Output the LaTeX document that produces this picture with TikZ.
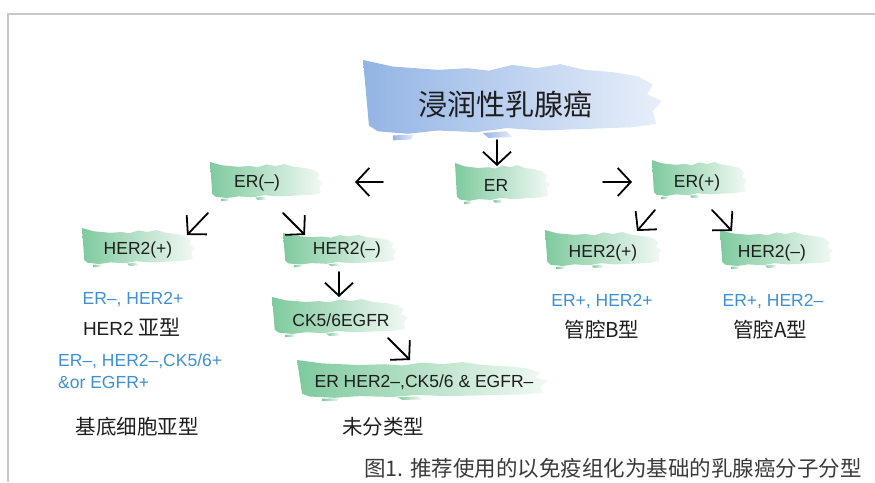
\documentclass[tikz,border=0pt]{standalone}
\usepackage{fontspec}
\setmainfont{Liberation Sans}
\newfontfamily\cjk{Noto Sans CJK SC}
\usetikzlibrary{arrows.meta}
\definecolor{bluetxt}{HTML}{3D8FD6}
\definecolor{gL}{HTML}{7FCA9E}
\definecolor{gR}{HTML}{F2F9F4}
\definecolor{bL}{HTML}{92B4E4}
\definecolor{bR}{HTML}{E8EFFA}
\definecolor{framegray}{HTML}{C9C9C9}
\definecolor{txtdark}{HTML}{1E1E1E}
\definecolor{captgray}{HTML}{3A3A3A}
\newcommand\brushbg[6]{%
  \begin{scope}[shift={(#1,#2)},xscale={#3-#1},yscale={#4-#2}]
    \shade[left color=#5,right color=#6]
      (0,0) -- (0.1,0.08) -- (0.25,0.12) -- (0.35,0.1) -- (0.42,0.13) -- (0.5,0.06)
      -- (0.58,0.1) -- (0.66,0.05) -- (0.74,0.12) -- (0.84,0.15) -- (0.92,0.2)
      -- (0.97,0.3) -- (0.95,0.42) -- (1,0.5) -- (0.97,0.62) -- (0.98,0.78)
      -- (0.9,0.82) -- (0.75,0.84) -- (0.6,0.86) -- (0.48,0.83) -- (0.38,0.88)
      -- (0.25,0.86) -- (0.15,0.9) -- (0.05,0.87) -- (0.02,0.8) -- (0.01,0.4) -- cycle;
    \shade[left color=#5,right color=#6]
      (0.1,0.92) -- (0.17,0.91) -- (0.16,0.97) -- (0.1,0.98) -- cycle;
    \shade[left color=#5,right color=#6]
      (0.4,0.89) -- (0.48,0.87) -- (0.5,0.94) -- (0.42,0.95) -- cycle;
  \end{scope}}
\tikzset{
  lbl/.style={text=txtdark, font=\fontsize{17.5}{20}\selectfont, inner sep=0pt},
  cjklbl/.style={text=txtdark, font=\cjk\fontsize{20.5}{24}\selectfont, inner sep=0pt},
  bluelbl/.style={text=bluetxt, font=\fontsize{17.5}{22}\selectfont, inner sep=0pt},
  arr/.style={line width=1.8pt, line cap=round, -{Straight Barb[length=13pt,width=28pt]}}
}
\begin{document}
\begin{tikzpicture}[x=1pt,y=-1pt]
\useasboundingbox (0,0) rectangle (875,482);
% frame
\draw[framegray, line width=2.5pt] (8,482) -- (8,14) -- (875,14);
% brushes
\brushbg{363}{60}{662}{142}{bL}{bR}
\brushbg{210}{162}{323}{202}{gL}{gR}
\brushbg{455}{163}{550}{205}{gL}{gR}
\brushbg{652}{160}{747}{200}{gL}{gR}
\brushbg{82}{228}{195}{268}{gL}{gR}
\brushbg{283}{233}{397}{268}{gL}{gR}
\brushbg{545}{230}{662}{270}{gL}{gR}
\brushbg{720}{230}{833}{270}{gL}{gR}
\brushbg{272}{297}{408}{338}{gL}{gR}
\brushbg{297}{360}{548}{402}{gL}{gR}
% nodes
\node[text=txtdark, font=\cjk\fontsize{29}{32}\selectfont, inner sep=0pt] (title) at (505,104) {浸润性乳腺癌};
\node[lbl] (erm) at (257,183) {ER(–)};
\node[lbl] (er) at (496,185) {ER};
\node[lbl] (erp) at (697,183) {ER(+)};
\node[lbl] (h2pL) at (138,250) {HER2(+)};
\node[lbl] (h2mL) at (347,250) {HER2(–)};
\node[lbl] (h2pR) at (603,253) {HER2(+)};
\node[lbl] (h2mR) at (772,253) {HER2(–)};
\node[lbl] (ck) at (341,320) {CK5/6EGFR};
\node[lbl] (uncl) at (424,382) {ER HER2–,CK5/6 \& EGFR–};
\node[bluelbl] (bl1) at (133,300) {ER–, HER2+};
\node[text=txtdark, inner sep=0pt] (her2type) at (132,327) {\fontsize{19}{22}\selectfont HER2 {\cjk\fontsize{21}{24}\selectfont 亚型}};
\node[bluelbl, anchor=west, align=left] (bl2) at (58,371) {ER–, HER2–,CK5/6+\\\&or EGFR+};
\node[cjklbl] (basal) at (137,427) {基底细胞亚型};
\node[cjklbl] (uncltype) at (383,427) {未分类型};
\node[bluelbl] (bl3) at (602,302) {ER+, HER2+};
\node[cjklbl] (lumB) at (602,330) {管腔B型};
\node[bluelbl] (bl4) at (773,302) {ER+, HER2–};
\node[cjklbl] (lumA) at (770,330) {管腔A型};
\node[text=captgray, font=\cjk\fontsize{21.5}{24}\selectfont, inner sep=0pt] (caption) at (613,468) {图1. 推荐使用的以免疫组化为基础的乳腺癌分子分型};
% arrow end points
\coordinate (a1s) at (497,140); \coordinate (a1e) at (497,166);
\coordinate (a2s) at (383,182); \coordinate (a2e) at (355,182);
\coordinate (a3s) at (603,182); \coordinate (a3e) at (632,182);
\coordinate (a4s) at (208,213); \coordinate (a4e) at (187,235);
\coordinate (a5s) at (283,213); \coordinate (a5e) at (305,235);
\coordinate (a6s) at (339,272); \coordinate (a6e) at (339,297);
\coordinate (a7s) at (388,338); \coordinate (a7e) at (410,360);
\coordinate (a8s) at (655,210); \coordinate (a8e) at (637,231);
\coordinate (a9s) at (712,210); \coordinate (a9e) at (732,231);
\foreach \i in {1,...,9} { \draw[arr] (a\i s) -- (a\i e); }
\end{tikzpicture}
\end{document}
